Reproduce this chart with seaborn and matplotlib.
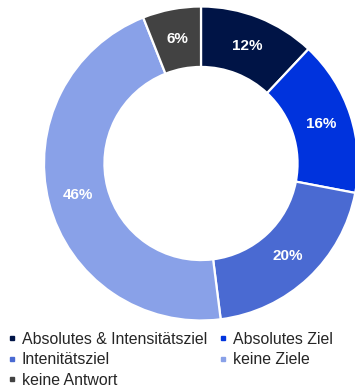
import matplotlib
matplotlib.use("Agg")
import matplotlib.pyplot as plt
from matplotlib.lines import Line2D
import numpy as np
import seaborn as sns

categories = ["Absolutes & Intensitätsziel", "Absolutes Ziel", "Intenitätsziel",
              "keine Ziele", "keine Antwort"]
shares = [12, 16, 20, 46, 6]
labels = ["12%", "16%", "20%", "46%", "6%"]
colors = ["#001446", "#0033DD", "#4A6AD2", "#89A1E8", "#424242"]

sns.set_theme(style="white")
plt.rcParams["font.family"] = ["Liberation Sans", "DejaVu Sans"]
palette = sns.color_palette(colors)

W, H = 355, 390
fig = plt.figure(figsize=(W / 100, H / 100), dpi=100)

# donut: outer radius ~157 px, centred at (201, 163.5) px
R = 157
cx, cy = 201, 163.5
ax = fig.add_axes([(cx - R) / W, (H - cy - R) / H, 2 * R / W, 2 * R / H])
ring = 0.385
wedges, _ = ax.pie(shares, colors=palette, startangle=90, counterclock=False,
                   radius=1.0,
                   wedgeprops=dict(width=ring, edgecolor="white", linewidth=1.6))
ax.set_xlim(-1, 1)
ax.set_ylim(-1, 1)
ax.set_aspect("equal")
ax.set_axis_off()

mid_r = 1 - ring / 2
for w, lab in zip(wedges, labels):
    ang = np.deg2rad((w.theta1 + w.theta2) / 2)
    ax.text(mid_r * np.cos(ang), mid_r * np.sin(ang), lab, ha="center", va="center",
            color="white", fontsize=11, fontweight="bold")

# legend, two columns filled row by row
order = [0, 2, 4, 1, 3]
handles = [Line2D([], [], marker="s", linestyle="none", markersize=3.5,
                  markerfacecolor=palette[i], markeredgecolor=palette[i]) for i in order]
fig.legend(handles, [categories[i] for i in order], ncol=2,
           loc="upper left", bbox_to_anchor=(-0.0075, 1 - 322 / H),
           frameon=False, fontsize=11.4, handlelength=0.6, handletextpad=0.35,
           columnspacing=0.7, labelspacing=0.36, borderaxespad=0.2)

fig.savefig("out.png", dpi=100)
